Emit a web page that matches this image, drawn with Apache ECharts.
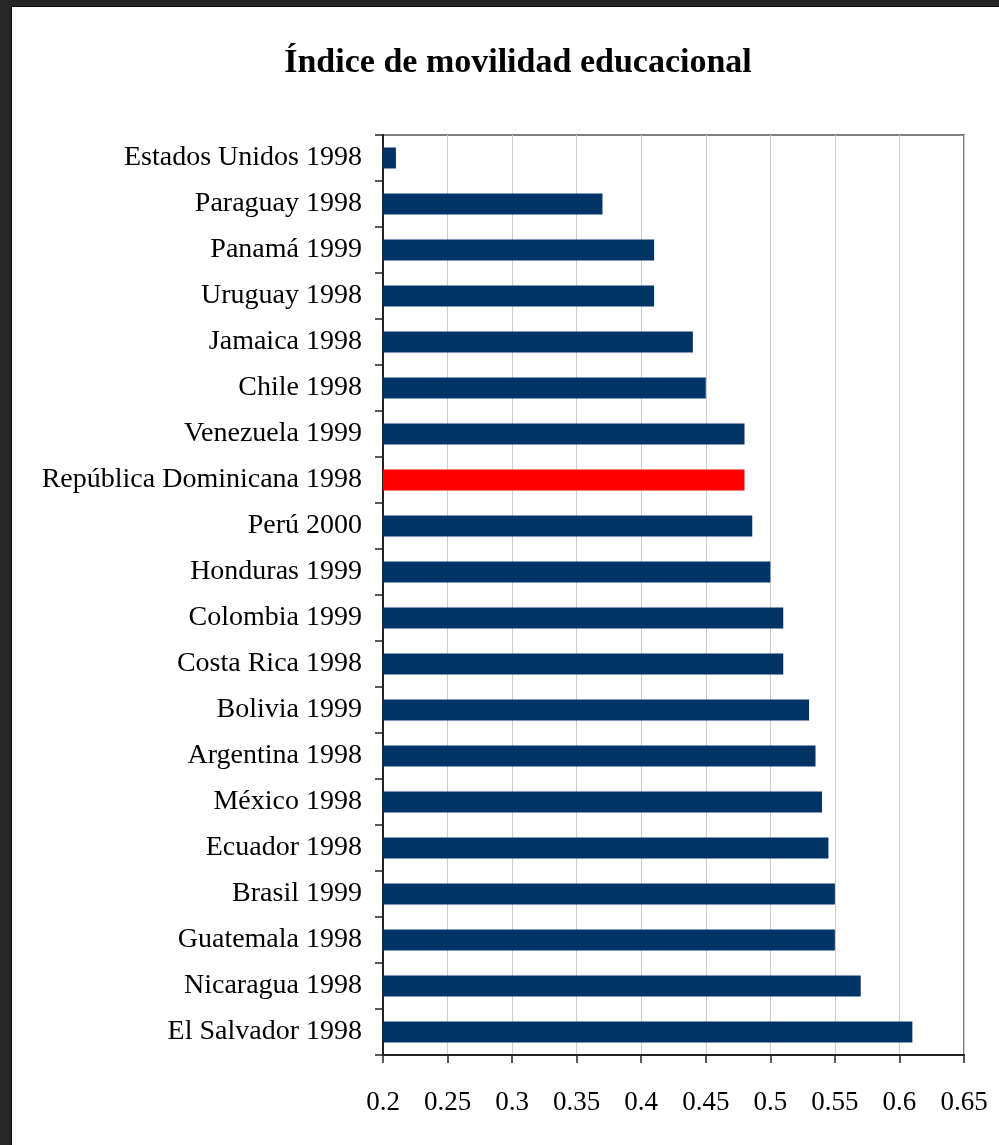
<!DOCTYPE html>
<html>
<head>
<meta charset="utf-8">
<script src="https://cdn.jsdelivr.net/npm/echarts@6/dist/echarts.min.js"></script>
<style>
html,body{margin:0;padding:0;background:#fff;}
#chart{width:999px;height:1145px;}
</style>
</head>
<body>
<div id="chart"></div>
<script>
const titleText = 'Índice de movilidad educacional';
const categories = [
  'Estados Unidos 1998','Paraguay 1998','Panamá 1999','Uruguay 1998','Jamaica 1998',
  'Chile 1998','Venezuela 1999','República Dominicana 1998','Perú 2000','Honduras 1999',
  'Colombia 1999','Costa Rica 1998','Bolivia 1999','Argentina 1998','México 1998',
  'Ecuador 1998','Brasil 1999','Guatemala 1998','Nicaragua 1998','El Salvador 1998'
];
const values = [
  0.21, 0.37, 0.41, 0.41, 0.44,
  0.45, 0.48, 0.48, 0.486, 0.50,
  0.51, 0.51, 0.53, 0.535, 0.54,
  0.545, 0.55, 0.55, 0.57, 0.61
];
const highlighted = 'República Dominicana 1998';
const xMin = 0.2, xMax = 0.65, xStep = 0.05;

const NAVY = '#003366', RED = '#FF0000';
const chart = echarts.init(document.getElementById('chart'), null, {renderer:'canvas'});
chart.setOption({
  backgroundColor: '#ffffff',
  animation: false,
  title: {
    text: titleText,
    left: 513, top: 41, textAlign: 'center',
    textStyle: {fontFamily: 'Liberation Serif', fontWeight: 'bold', fontSize: 34, color: '#000'}
  },
  grid: {
    left: 383, top: 135, right: 35, bottom: 90,
    show: true, borderColor: '#808080', borderWidth: 2, backgroundColor: 'transparent'
  },
  xAxis: {
    type: 'value', min: xMin, max: xMax, interval: xStep,
    axisLine: {show: true, lineStyle: {color: '#222', width: 2}},
    axisTick: {show: true, length: 8, lineStyle: {color: '#222', width: 1.5}},
    splitLine: {show: true, lineStyle: {color: '#cccccc', width: 1}},
    axisLabel: {
      margin: 34, color: '#000', fontFamily: 'Liberation Serif', fontSize: 27,
      formatter: v => String(parseFloat(v.toFixed(2)))
    }
  },
  yAxis: {
    type: 'category', data: categories, inverse: true,
    axisLine: {show: true, lineStyle: {color: '#222', width: 2}},
    axisTick: {show: true, length: 8, alignWithLabel: false, lineStyle: {color: '#222', width: 1.5}},
    splitLine: {show: false},
    axisLabel: {margin: 21, color: '#000', fontFamily: 'Liberation Serif', fontSize: 28, padding: [12, 0, 0, 0]}
  },
  series: [{
    type: 'bar',
    data: values,
    barWidth: 21,
    itemStyle: {color: p => p.name === highlighted ? RED : NAVY}
  }],
  graphic: [
    {type:'rect', left:0, top:0, shape:{width:11, height:1145}, style:{fill:'#262626'}, z:100},
    {type:'rect', left:0, top:0, shape:{width:999, height:6}, style:{fill:'#262626'}, z:100},
    {type:'rect', left:11, top:6, shape:{width:1, height:1139}, style:{fill:'#0a0a0a'}, z:100},
    {type:'rect', left:11, top:6, shape:{width:988, height:1}, style:{fill:'#0a0a0a'}, z:100}
  ]
});
</script>
</body>
</html>
